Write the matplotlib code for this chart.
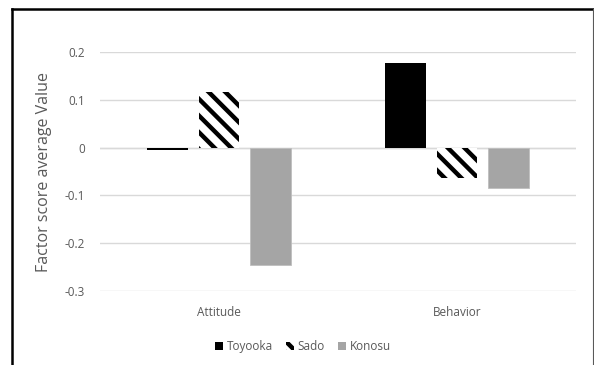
import matplotlib
matplotlib.use('Agg')
import matplotlib.pyplot as plt
from matplotlib.lines import Line2D
from matplotlib.patches import Patch
import numpy as np

categories = ['Attitude', 'Behavior']
series_names = ['Toyooka', 'Sado', 'Konosu']
toyooka = [-0.004, 0.178]
sado = [0.117, -0.063]
konosu = [-0.246, -0.085]
y_ticks = [-0.3, -0.2, -0.1, 0, 0.1, 0.2]
y_tick_labels = ['-0.3', '-0.2', '-0.1', '0', '0.1', '0.2']

plt.rcParams['font.family'] = ['Open Sans', 'DejaVu Sans']
plt.rcParams['hatch.linewidth'] = 3.2
plt.rcParams['hatch.color'] = 'black'

text_gray = '#595959'
grid_gray = '#D9D9D9'

fig = plt.figure(figsize=(5.94, 3.65), dpi=100)
ax = fig.add_axes([0.1684, 0.2027, 0.8013, 0.6548])

x = np.arange(len(categories))
width = 0.172
step = 0.218

ax.bar(x - step, toyooka, width, color='black', label=series_names[0], zorder=3)
ax.bar(x, sado, width, color='white', edgecolor='black', linewidth=0,
       hatch='\\\\', label=series_names[1], zorder=3)
ax.bar(x + step, konosu, width, color='#A5A5A5', edgecolor='#BFBFBF',
       linewidth=0.6, label=series_names[2], zorder=3)

ax.set_xlim(-0.5, 1.5)
ax.set_ylim(-0.3, 0.2)
ax.set_yticks(y_ticks)
ax.set_yticklabels(y_tick_labels)
ax.set_xticks(x)
ax.set_xticklabels(categories)
ax.tick_params(axis='both', length=0, labelsize=8.5, colors=text_gray)
ax.tick_params(axis='y', pad=11)
ax.tick_params(axis='x', pad=11)
ax.grid(axis='y', color=grid_gray, linewidth=1.0, zorder=0)
ax.axhline(0, color=grid_gray, linewidth=1.0, zorder=1)
for s in ax.spines.values():
    s.set_visible(False)

ax.set_ylabel('Factor score average Value', fontsize=11.5, color=text_gray, labelpad=9)

handles = [Patch(facecolor='black', label='Toyooka'),
           Patch(facecolor='white', hatch='\\\\\\', linewidth=0, label='Sado'),
           Patch(facecolor='#A5A5A5', label='Konosu')]
leg = fig.legend(handles=handles, loc='center', bbox_to_anchor=(0.51, 0.05),
                 ncol=3, frameon=False, fontsize=8.5, handlelength=0.7,
                 handleheight=0.7, handletextpad=0.3, columnspacing=1.1)
for t in leg.get_texts():
    t.set_color(text_gray)

# outer frame
fig.add_artist(Line2D([12 / 594, 12 / 594], [0, 1 - 9 / 365], transform=fig.transFigure,
                      color='black', linewidth=1.8))
fig.add_artist(Line2D([12 / 594, 593 / 594], [1 - 9 / 365, 1 - 9 / 365], transform=fig.transFigure,
                      color='black', linewidth=1.8))
fig.add_artist(Line2D([593 / 594, 593 / 594], [0, 1 - 9 / 365], transform=fig.transFigure,
                      color='#595959', linewidth=0.8))

fig.savefig('out.png', dpi=100)
